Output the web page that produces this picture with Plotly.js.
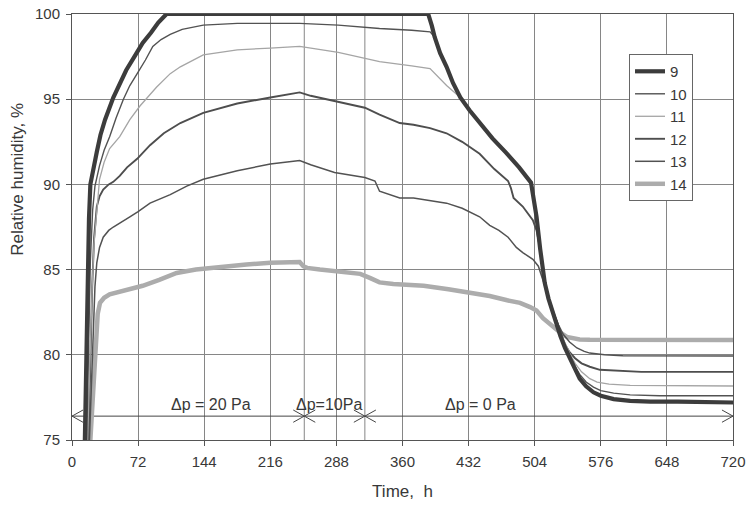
<!DOCTYPE html>
<html>
<head>
<meta charset="utf-8">
<script src="https://cdn.plot.ly/plotly-3.0.1.min.js"></script>
<style>
  html, body { margin: 0; padding: 0; background: #ffffff; }
  #chart { width: 747px; height: 505px; }
</style>
</head>
<body>
<div id="chart"></div>
<script>
// ---- Data (time in h, relative humidity in %) ----
const seriesNames = ['9', '10', '11', '12', '13', '14'];

const t9  = [14, 15.5, 17, 18.5, 20, 23, 27, 31, 36, 45, 52, 59, 68, 77, 86, 94, 103, 150, 200, 250, 300, 350, 388, 392, 395, 401, 408, 415, 423, 433, 444, 458, 473, 487, 500, 503, 506, 510, 515, 519, 523, 528, 532, 537, 542, 548, 553, 560, 568, 576, 590, 608, 630, 660, 690, 720];
const rh9 = [75, 80, 84.5, 88, 90, 90.9, 91.9, 92.9, 93.8, 95.1, 95.9, 96.7, 97.5, 98.3, 98.9, 99.5, 100, 100, 100, 100, 100, 100, 100, 99.3, 98.65, 97.7, 96.9, 95.95, 95.1, 94.35, 93.6, 92.7, 91.85, 91.0, 90.1, 89.2, 88.1, 86.2, 84.2, 83.3, 82.6, 81.8, 81.1, 80.4, 79.8, 79.1, 78.6, 78.15, 77.8, 77.6, 77.4, 77.3, 77.25, 77.25, 77.2, 77.2];

const t10  = [16, 18, 20, 22.5, 25, 30, 35, 41, 48, 56, 63, 71, 80, 88, 97, 107, 120, 143, 180, 216, 248, 290, 335, 370, 390, 395, 401, 408, 415, 423, 433, 444, 458, 473, 487, 500, 503, 506, 510, 515, 519, 523, 528, 532, 537, 542, 548, 553, 560, 568, 576, 590, 608, 640, 720];
const rh10 = [75, 81, 85.5, 88.5, 89.9, 91.1, 92.0, 92.8, 93.9, 95.0, 95.8, 96.5, 97.3, 98.1, 98.5, 98.8, 99.1, 99.35, 99.45, 99.45, 99.45, 99.35, 99.15, 99.05, 98.95, 98.65, 97.7, 96.9, 95.95, 95.1, 94.35, 93.6, 92.7, 91.85, 91.0, 90.1, 89.2, 88.1, 86.2, 84.2, 83.3, 82.6, 81.85, 81.2, 80.55, 79.95, 79.3, 78.85, 78.4, 78.1, 77.9, 77.75, 77.65, 77.6, 77.6];

const t11  = [17, 19.5, 22, 24, 26.5, 30, 35, 41, 52, 63, 74, 92, 107, 118, 143, 180, 216, 248, 290, 335, 370, 390, 408, 423, 433, 444, 458, 473, 487, 500, 503, 506, 510, 515, 519, 523, 528, 532, 537, 542, 548, 555, 564, 572, 585, 608, 720];
const rh11 = [75, 80, 84, 86.5, 88.2, 90.3, 91.3, 92.1, 92.8, 93.8, 94.6, 95.7, 96.5, 96.9, 97.6, 97.9, 98.0, 98.1, 97.75, 97.2, 96.95, 96.8, 95.8, 95.1, 94.3, 93.55, 92.65, 91.8, 90.95, 90.05, 89.15, 88.05, 86.2, 84.2, 83.3, 82.6, 81.9, 81.25, 80.7, 80.1, 79.5, 79.0, 78.6, 78.4, 78.28, 78.2, 78.17];

const t12  = [18, 20, 22, 24, 27, 30, 34, 40, 45, 52, 60, 71, 85, 100, 118, 143, 180, 216, 248, 260, 286, 319, 335, 357, 372, 390, 408, 425, 444, 460, 475, 478, 481, 491, 502, 506, 510, 515, 519, 523, 528, 532, 537, 542, 548, 555, 564, 575, 597, 620, 720];
const rh12 = [75, 80, 84, 86.8, 88.7, 89.3, 89.7, 90.0, 90.15, 90.5, 91.0, 91.5, 92.3, 93.0, 93.6, 94.2, 94.75, 95.1, 95.4, 95.2, 94.9, 94.5, 94.1, 93.6, 93.5, 93.3, 93.0, 92.5, 91.8, 90.9, 90.2, 89.8, 89.2, 88.7, 87.9, 87.3, 86.2, 84.2, 83.3, 82.65, 81.95, 81.35, 80.6, 80.15, 79.8, 79.5, 79.3, 79.12, 79.05, 79.0, 79.0];

const t13  = [19, 21, 23, 25, 27, 30, 34, 40, 45, 52, 63, 72, 85, 107, 125, 143, 180, 216, 248, 260, 286, 319, 330, 335, 345, 357, 372, 390, 408, 425, 444, 455, 465, 475, 484, 491, 502, 508, 513, 517, 521, 525, 530, 535, 542, 550, 558, 564, 580, 600, 720];
const rh13 = [75, 78, 81.5, 84, 85.4, 86.3, 86.9, 87.3, 87.5, 87.75, 88.1, 88.4, 88.9, 89.4, 89.9, 90.3, 90.8, 91.2, 91.4, 91.15, 90.7, 90.4, 90.2, 89.6, 89.4, 89.2, 89.2, 89.05, 88.9, 88.6, 88.1, 87.6, 87.3, 86.9, 86.3, 86.0, 85.6, 85.2, 84.4, 83.7, 83.0, 82.4, 81.75, 81.2, 80.75, 80.4, 80.2, 80.1, 80.0, 79.95, 79.93];

const t14  = [20, 22, 24, 26, 28, 30.5, 35, 41, 55, 77, 95, 114, 135, 158, 190, 216, 240, 248, 252, 256, 270, 289, 314, 325, 335, 350, 383, 410, 430, 455, 474, 488, 499, 506, 513, 521, 526, 532, 539, 553, 564, 600, 720];
const rh14 = [75, 77, 79.5, 81.2, 82.4, 83.05, 83.35, 83.55, 83.75, 84.05, 84.4, 84.8, 85.0, 85.15, 85.3, 85.4, 85.45, 85.45, 85.2, 85.1, 85.0, 84.9, 84.75, 84.5, 84.25, 84.15, 84.05, 83.85, 83.7, 83.45, 83.2, 83.05, 82.8, 82.6, 82.15, 81.8, 81.5, 81.3, 81.05, 80.9, 80.88, 80.87, 80.87];

// Pressure-difference phases (h) and their labels
const phaseBounds = [0, 253, 319, 720];
const phaseLabels = ['\u0394p = 20 Pa', '\u0394p=10Pa', '\u0394p = 0 Pa'];

// Axis ticks
const xTicks = [0, 72, 144, 216, 288, 360, 432, 504, 576, 648, 720];
const yTicks = [75, 80, 85, 90, 95, 100];

// ---- Styling / layout (kept apart from the data) ----
const FONT = '"Liberation Sans", Arial, Helvetica, sans-serif';
const TXT = '#383838';
const GRID = '#868686';
const ARROW = '#454545';
const yRange = [75, 100];
const arrowY = 76.4;      // level of the phase arrows
const labelY = 77.1;      // level of the phase labels
const labelX = [151, 280, 445];
const headLen = 12;       // arrowhead length, in h
const headHalf = 0.36;    // arrowhead half-height, in %

const styles = [
  {color: '#3c3c3c', width: 4.2},
  {color: '#525252', width: 1.4},
  {color: '#a5a5a5', width: 1.3},
  {color: '#4e4e4e', width: 1.9},
  {color: '#525252', width: 1.5},
  {color: '#acacac', width: 4.5}
];

const xs = [t9, t10, t11, t12, t13, t14];
const ys = [rh9, rh10, rh11, rh12, rh13, rh14];

const traces = seriesNames.map((name, i) => ({
  type: 'scatter',
  mode: 'lines',
  name: name,
  x: xs[i],
  y: ys[i],
  legendgroup: 'g' + i,
  legendrank: i + 1,
  line: {color: styles[i].color, width: styles[i].width},
  hoverinfo: 'skip'
}));
const drawOrder = [5, 4, 3, 2, 1, 0];

// Phase boundary lines: one short vertical trace per boundary, many points
const boundTraces = phaseBounds.slice(1, -1).map(b => ({
  type: 'scatter', mode: 'lines', showlegend: false, hoverinfo: 'skip',
  x: yTicks.map(() => b), y: yTicks.slice(),
  line: {color: GRID, width: 1}
}));

// Phase arrows (double-headed, open heads), built from phaseBounds
const ax = [phaseBounds[0], phaseBounds[phaseBounds.length - 1], null];
const ay = [arrowY, arrowY, null];
for (let i = 0; i < phaseBounds.length - 1; i++) {
  const a = phaseBounds[i], c = phaseBounds[i + 1];
  ax.push(a + headLen, a, a + headLen, null, c - headLen, c, c - headLen, null);
  ay.push(arrowY + headHalf, arrowY, arrowY - headHalf, null, arrowY + headHalf, arrowY, arrowY - headHalf, null);
}
const arrowTrace = {
  type: 'scatter', mode: 'lines', x: ax, y: ay, showlegend: false,
  hoverinfo: 'skip', line: {color: ARROW, width: 1}, connectgaps: false
};

const data = boundTraces.concat([arrowTrace]).concat(drawOrder.map(i => traces[i]));

const annotations = phaseLabels.map((txt, i) => ({
  x: labelX[i], y: labelY, xref: 'x', yref: 'y',
  text: txt, showarrow: false,
  font: {family: FONT, size: 16, color: TXT}
}));
annotations.push({
  xref: 'paper', yref: 'paper', x: -0.082, y: 0.613,
  xanchor: 'center', yanchor: 'middle',
  text: 'Relative humidity, %', textangle: -90, showarrow: false,
  font: {family: FONT, size: 17, color: TXT}
});

const layout = {
  width: 747, height: 505,
  margin: {l: 72, r: 14, t: 14, b: 65},
  paper_bgcolor: '#ffffff',
  plot_bgcolor: '#ffffff',
  font: {family: FONT, size: 15, color: TXT},
  showlegend: true,
  legend: {
    x: 0.8427, y: 0.906, xanchor: 'left', yanchor: 'top',
    bgcolor: '#ffffff', bordercolor: '#666666', borderwidth: 1,
    font: {family: FONT, size: 15, color: TXT},
    itemwidth: 30, traceorder: 'normal', tracegroupgap: 4
  },
  xaxis: {
    range: [0, 720], tickmode: 'array', tickvals: xTicks, ticktext: xTicks.map(String),
    showgrid: true, gridcolor: GRID, gridwidth: 1,
    showline: true, linecolor: '#555', linewidth: 1, mirror: true,
    ticks: 'outside', ticklen: 5, tickcolor: '#555',
    zeroline: false, ticklabelstandoff: 3,
    tickfont: {family: FONT, size: 15, color: TXT},
    title: {text: 'Time,\u00a0 h', font: {family: FONT, size: 17, color: TXT}, standoff: 16}
  },
  yaxis: {
    range: yRange, tickvals: yTicks, ticktext: yTicks.map(String),
    showgrid: true, gridcolor: GRID, gridwidth: 1,
    showline: true, linecolor: '#555', linewidth: 1, mirror: true,
    ticks: 'outside', ticklen: 5, tickcolor: '#555',
    zeroline: false, ticklabelstandoff: 3,
    tickfont: {family: FONT, size: 15, color: TXT}
  },
  annotations: annotations
};

Plotly.newPlot('chart', data, layout, {displayModeBar: false, staticPlot: true});
</script>
</body>
</html>
